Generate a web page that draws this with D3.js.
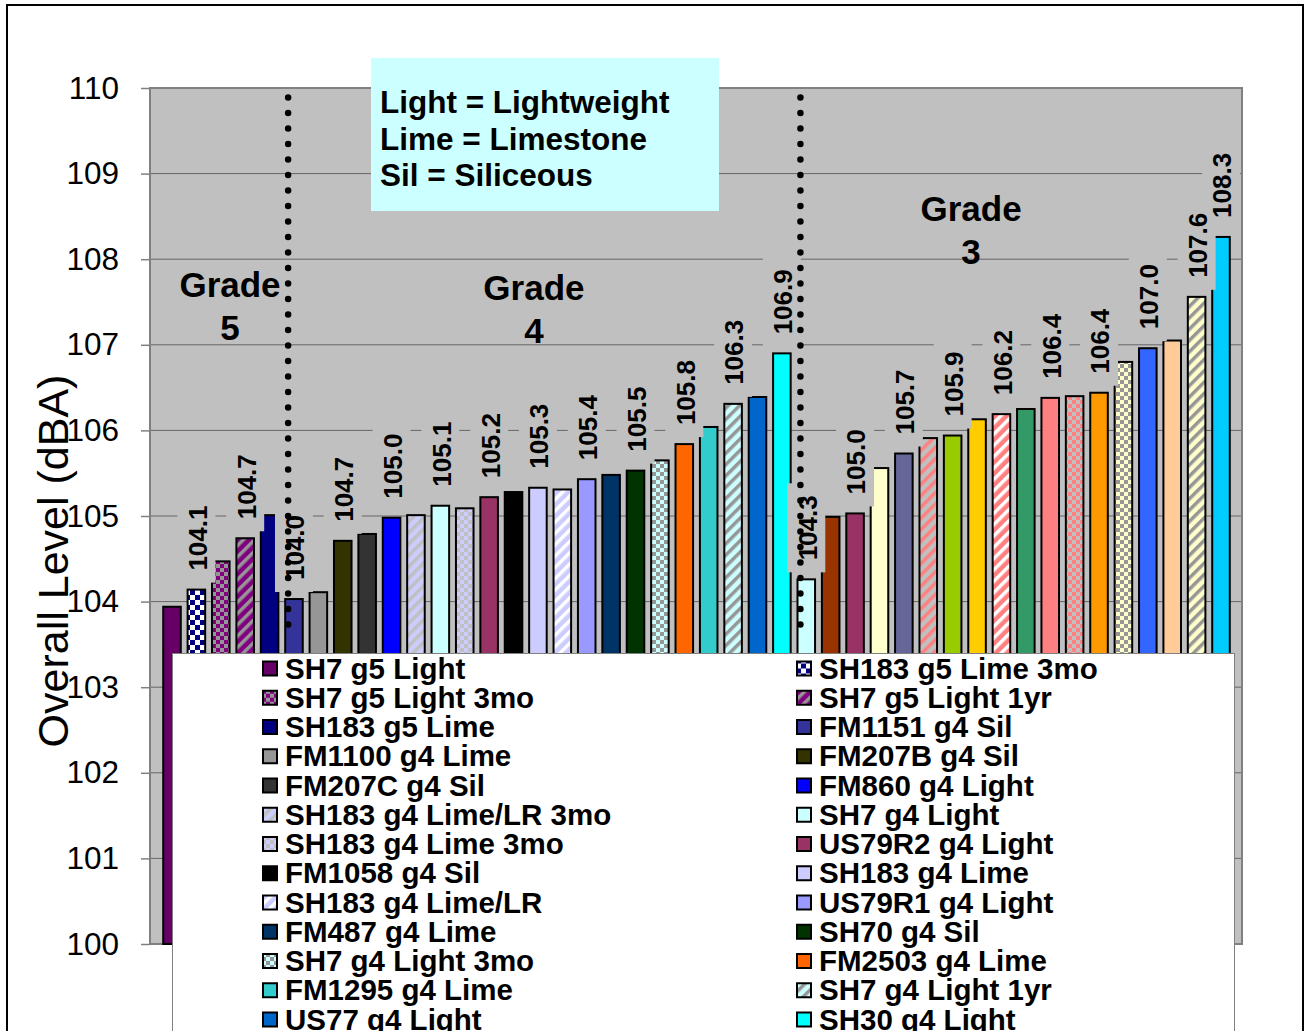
<!DOCTYPE html>
<html>
<head>
<meta charset="utf-8">
<script src="https://cdn.jsdelivr.net/npm/d3@7"></script>
<style>
  body { margin: 0; background: #fff; }
  text { font-family: Arial, "Liberation Sans", sans-serif; }
</style>
</head>
<body>
<script>
// bar names, in the order they are drawn (grade 3 names are cut off in the source legend)
const categories = [
  "SH7 g5 Light", "SH183 g5 Lime 3mo", "SH7 g5 Light 3mo", "SH7 g5 Light 1yr", "SH183 g5 Lime",
  "FM1151 g4 Sil", "FM1100 g4 Lime", "FM207B g4 Sil", "FM207C g4 Sil", "FM860 g4 Light",
  "SH183 g4 Lime/LR 3mo", "SH7 g4 Light", "SH183 g4 Lime 3mo", "US79R2 g4 Light", "FM1058 g4 Sil",
  "SH183 g4 Lime", "SH183 g4 Lime/LR", "US79R1 g4 Light", "FM487 g4 Lime", "SH70 g4 Sil",
  "SH7 g4 Light 3mo", "FM2503 g4 Lime", "FM1295 g4 Lime", "SH7 g4 Light 1yr", "US77 g4 Light",
  "SH30 g4 Light",
  "g3 site 1", "g3 site 2", "g3 site 3", "g3 site 4", "g3 site 5", "g3 site 6",
  "g3 site 7", "g3 site 8", "g3 site 9", "g3 site 10", "g3 site 11", "g3 site 12",
  "g3 site 13", "g3 site 14", "g3 site 15", "g3 site 16", "g3 site 17", "g3 site 18"
];

// overall level, dBA
const levels = [
  103.94, 104.14, 104.47, 104.74, 105.01, 104.03, 104.11, 104.71, 104.79, 104.98,
  105.01, 105.12, 105.09, 105.22, 105.28, 105.33, 105.31, 105.43, 105.48, 105.53,
  105.65, 105.84, 106.04, 106.31, 106.39, 106.90,
  104.26, 104.99, 105.03, 105.56, 105.73, 105.91, 105.94, 106.13, 106.19, 106.25,
  106.38, 106.40, 106.44, 106.80, 106.96, 107.05, 107.56, 108.26
];

// which bars carry a value label (1 = yes)
const labelled = [
  0, 1, 0, 1, 0, 1, 0, 1, 0, 1, 0, 1, 0, 1, 0, 1, 0, 1, 0, 1, 0, 1, 0, 1, 0, 1,
  1, 0, 1, 0, 1, 0, 1, 0, 1, 0, 1, 0, 1, 0, 1, 0, 1, 1
];

const yTicks = [100, 101, 102, 103, 104, 105, 106, 107, 108, 109, 110];

const gradeLabels = ["Grade 5", "Grade 4", "Grade 3"];
const noteLines = ["Light = Lightweight", "Lime = Limestone", "Sil = Siliceous"];

// fills, solid colours or patterns defined below
const barFills = [
  "#660066", "url(#chkNavy)", "url(#chkPurple)", "url(#strPurple)", "#000080",
  "#333399", "#969696", "#333300", "#333333", "#0000FF",
  "url(#strLav)", "#CCFFFF", "url(#chkLav)", "#993366", "#000000",
  "#CCCCFF", "url(#strLavW)", "#9999FF", "#003366", "#003300",
  "url(#chkCyan)", "#FF6600", "#33CCCC", "url(#strCyan)", "#0066CC",
  "#00FFFF",
  "#CCFFFF", "#993300", "#993366", "#FFFFCC", "#666699", "url(#strSalGrey)",
  "#99CC00", "#FFCC00", "url(#strSalW)", "#339966", "#FF8080", "url(#chkSal)",
  "#FF9900", "url(#chkYel)", "#3366FF", "#FFCC99", "url(#strYel)", "#00CCFF"
];

const patternDefs = [
  { id: "chkNavy", kind: "checker", bg: "#FFFFFF", fg: "#000080", size: 5 },
  { id: "chkPurple", kind: "checker", bg: "#969696", fg: "#800080", size: 4 },
  { id: "strPurple", kind: "stripe", bg: "#800080", fg: "#969696" },
  { id: "strLav", kind: "stripe", bg: "#CCCCFF", fg: "#C0C0C0" },
  { id: "chkLav", kind: "checker", bg: "#C0C0C0", fg: "#CCCCFF", size: 4 },
  { id: "strLavW", kind: "stripe", bg: "#CCCCFF", fg: "#FFFFFF" },
  { id: "chkCyan", kind: "checker", bg: "#969696", fg: "#CCFFFF", size: 4 },
  { id: "strCyan", kind: "stripe", bg: "#CCFFFF", fg: "#969696" },
  { id: "strSalGrey", kind: "stripe", bg: "#C0C0C0", fg: "#FF8080" },
  { id: "strSalW", kind: "stripe", bg: "#FF8080", fg: "#FFFFFF" },
  { id: "chkSal", kind: "checker", bg: "#C0C0C0", fg: "#FF8080", size: 4 },
  { id: "chkYel", kind: "checker", bg: "#969696", fg: "#FFFFCC", size: 4 },
  { id: "strYel", kind: "stripe", bg: "#FFFFCC", fg: "#969696" }
];

const W = 1305, H = 1031;
const plot = { left: 150, top: 88, right: 1242, bottom: 944 };

const svg = d3.select("body").append("svg")
  .attr("width", W)
  .attr("height", H);

// patterns
const defs = svg.append("defs");
patternDefs.forEach(p => {
  if (p.kind === "checker") {
    const pat = defs.append("pattern")
      .attr("id", p.id)
      .attr("patternUnits", "userSpaceOnUse")
      .attr("width", p.size * 2)
      .attr("height", p.size * 2);
    pat.append("rect").attr("width", p.size * 2).attr("height", p.size * 2).attr("fill", p.bg);
    pat.append("rect").attr("width", p.size).attr("height", p.size).attr("fill", p.fg);
    pat.append("rect").attr("x", p.size).attr("y", p.size)
      .attr("width", p.size).attr("height", p.size).attr("fill", p.fg);
  } else {
    const pat = defs.append("pattern")
      .attr("id", p.id)
      .attr("patternUnits", "userSpaceOnUse")
      .attr("width", 8)
      .attr("height", 8)
      .attr("patternTransform", "rotate(45)");
    pat.append("rect").attr("width", 8).attr("height", 8).attr("fill", p.bg);
    pat.append("rect").attr("width", 3.5).attr("height", 8).attr("fill", p.fg);
  }
});

// outer frame
svg.append("rect")
  .attr("x", 7).attr("y", 5)
  .attr("width", 1296).attr("height", 1100)
  .attr("fill", "#fff")
  .attr("stroke", "#000")
  .attr("stroke-width", 2);

const x = d3.scaleBand()
  .domain(d3.range(categories.length))
  .range([159.8, 1233.2])
  .paddingInner(0.28)
  .paddingOuter(0.14);

const y = d3.scaleLinear()
  .domain([100, 110])
  .range([plot.bottom, plot.top]);

// plot area
svg.append("rect")
  .attr("x", plot.left).attr("y", plot.top)
  .attr("width", plot.right - plot.left)
  .attr("height", plot.bottom - plot.top)
  .attr("fill", "#C0C0C0");

svg.append("g")
  .selectAll("line")
  .data(yTicks.slice(1, -1))
  .join("line")
  .attr("x1", plot.left).attr("x2", plot.right)
  .attr("y1", d => y(d)).attr("y2", d => y(d))
  .attr("stroke", "#666")
  .attr("stroke-width", 1);

svg.append("rect")
  .attr("x", plot.left).attr("y", plot.top)
  .attr("width", plot.right - plot.left)
  .attr("height", plot.bottom - plot.top)
  .attr("fill", "none")
  .attr("stroke", "#808080")
  .attr("stroke-width", 2);

// y axis
const yAxis = d3.axisLeft(y)
  .tickValues(yTicks)
  .tickFormat(d3.format("d"))
  .tickSize(9)
  .tickPadding(22);

const yg = svg.append("g")
  .attr("transform", `translate(${plot.left},0)`)
  .call(yAxis);
yg.select(".domain").remove();
yg.selectAll(".tick line").attr("stroke", "#808080").attr("stroke-width", 1.5);
yg.selectAll(".tick text")
  .attr("font-size", 31.5)
  .attr("fill", "#000")
  .style("font-family", "Arial, 'Liberation Sans', sans-serif");

svg.append("text")
  .attr("transform", `translate(68,561) rotate(-90)`)
  .attr("text-anchor", "middle")
  .attr("font-size", 43)
  .text("Overall Level (dBA)");

// bars
const bars = categories.map((c, i) => ({ name: c, value: levels[i], fill: barFills[i], lab: labelled[i], i }));

svg.append("g")
  .selectAll("rect")
  .data(bars)
  .join("rect")
  .attr("x", d => x(d.i))
  .attr("y", d => y(d.value))
  .attr("width", x.bandwidth())
  .attr("height", d => y(100) - y(d.value))
  .attr("fill", d => d.fill)
  .attr("stroke", "#000")
  .attr("stroke-width", 2);

// value labels: grey boxes first, then all the texts on top
const fmt = d3.format(".1f");
const boxG = svg.append("g");
const labG = svg.append("g");
bars.filter(d => d.lab).forEach(d => {
  const cx = x(d.i) + x.bandwidth() / 2;
  const top = y(d.value);
  const t = labG.append("text")
    .attr("transform", `translate(${cx + 1},${top - 19}) rotate(-90)`)
    .attr("dy", "0.36em")
    .attr("font-size", 26)
    .attr("font-weight", "bold")
    .text(fmt(d.value));
  const len = t.node().getComputedTextLength();
  boxG.append("rect")
    .attr("x", cx - 19)
    .attr("y", top - 7 - (len + 24))
    .attr("width", 38)
    .attr("height", len + 24)
    .attr("fill", "#C0C0C0");
});

// grade dividers
const step = x.step();
[4, 25].forEach(i => {
  const lx = x(i) + x.bandwidth() / 2 + 0.76 * step;
  svg.append("line")
    .attr("x1", lx).attr("x2", lx)
    .attr("y1", y(109.89)).attr("y2", y(103.7))
    .attr("stroke", "#000")
    .attr("stroke-width", 6.5)
    .attr("stroke-linecap", "round")
    .attr("stroke-dasharray", "0 15.5");
});

// grade titles
const gradePos = [
  { cx: (x(0) + x(5) + x.bandwidth()) / 2 - 3, v: 107.56 },
  { cx: x(15) + x.bandwidth() / 2 - 4, v: 107.52 },
  { cx: x(33) + x.bandwidth() / 2 - 6, v: 108.45 }
];
gradeLabels.forEach((g, k) => {
  const parts = g.split(" ");
  const t = svg.append("text")
    .attr("x", gradePos[k].cx)
    .attr("y", y(gradePos[k].v))
    .attr("text-anchor", "middle")
    .attr("font-size", 35)
    .attr("font-weight", "bold");
  t.append("tspan").attr("x", gradePos[k].cx).text(parts[0]);
  t.append("tspan").attr("x", gradePos[k].cx).attr("dy", 43).text(parts[1]);
});

// note box
svg.append("rect")
  .attr("x", 371).attr("y", 58)
  .attr("width", 348).attr("height", 153)
  .attr("fill", "#CCFFFF");
svg.append("g")
  .selectAll("text")
  .data(noteLines)
  .join("text")
  .attr("x", 380)
  .attr("y", (d, i) => 113 + i * 36.5)
  .attr("font-size", 31.5)
  .attr("font-weight", "bold")
  .text(d => d);

// legend (runs off the bottom of the page, like the source)
const legend = svg.append("g");
legend.append("rect")
  .attr("x", 172.5).attr("y", 653.5)
  .attr("width", 1062).attr("height", 700)
  .attr("fill", "#fff")
  .attr("stroke", "#808080")
  .attr("stroke-width", 1);

const colX = [262, 796];
const rowY = i => 668.5 + Math.floor(i / 2) * 29.25;
const items = legend.selectAll("g.item")
  .data(bars.filter(d => rowY(d.i) - 12 < H))
  .join("g")
  .attr("class", "item")
  .attr("transform", d => `translate(${colX[d.i % 2]},${rowY(d.i)})`);
items.append("rect")
  .attr("x", 1).attr("y", -7)
  .attr("width", 14).attr("height", 14)
  .attr("fill", d => d.fill)
  .attr("stroke", "#000")
  .attr("stroke-width", 2);
items.append("text")
  .attr("x", 23)
  .attr("y", 10)
  .attr("font-size", 29.5)
  .attr("font-weight", "bold")
  .text(d => d.name);
</script>
</body>
</html>
